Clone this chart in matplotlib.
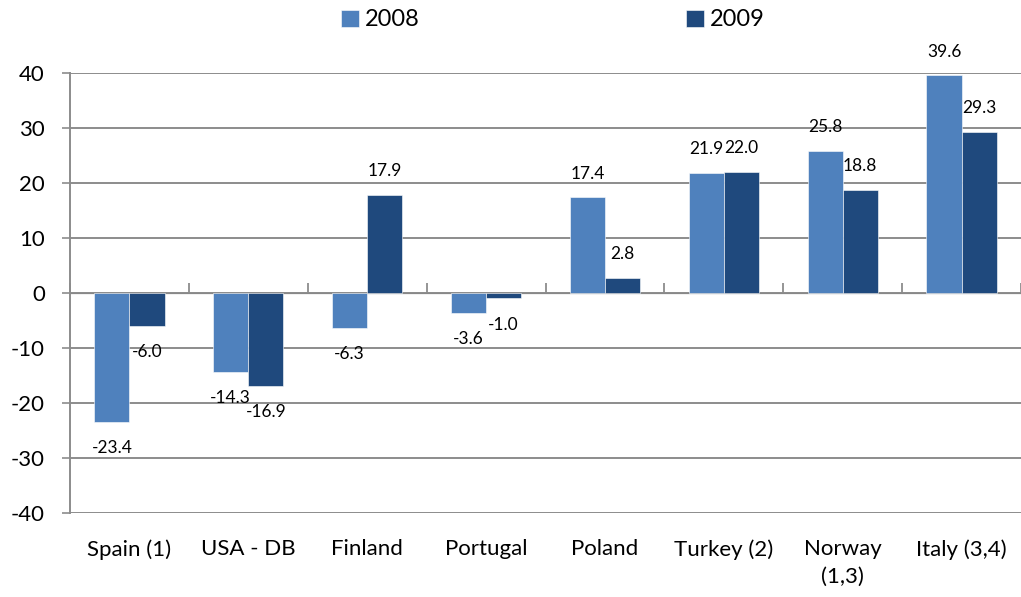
import matplotlib
matplotlib.use("Agg")
import matplotlib.pyplot as plt
import numpy as np

categories = ["Spain (1)", "USA - DB", "Finland", "Portugal", "Poland",
              "Turkey (2)", "Norway\n(1,3)", "Italy (3,4)"]
series_names = ["2008", "2009"]
values_2008 = [-23.4, -14.3, -6.3, -3.6, 17.4, 21.9, 25.8, 39.6]
values_2009 = [-6.0, -16.9, 17.9, -1.0, 2.8, 22.0, 18.8, 29.3]
colors = ["#4F81BD", "#1F497D"]
yticks = [-40, -30, -20, -10, 0, 10, 20, 30, 40]

plt.rcParams['font.family'] = ['Lato', 'DejaVu Sans']

fig = plt.figure(figsize=(10.21, 5.97), dpi=100)
ax = fig.add_axes([70/1021, 1-513/597, 1-70/1021, (513-73)/597])

x = np.arange(len(categories)) + 0.5
w = 0.295
grid_c = "#8C8C8C"

for i, (vals, name) in enumerate(zip([values_2008, values_2009], series_names)):
    xs = x + (i - 0.5) * w
    ax.bar(xs, vals, width=w, color=colors[i], label=name,
           edgecolor="white", linewidth=0.4, zorder=3)
    for xi, v in zip(xs, vals):
        off = 17 if v >= 0 else -19
        ax.annotate(f"{v:.1f}", (xi, v), xytext=(0, off), textcoords="offset points",
                    ha="center", va="center", fontsize=12.5, color="black", zorder=4)

ax.set_xlim(0, len(categories))
ax.set_ylim(-40, 40)
ax.set_yticks(yticks)
ax.set_yticklabels([str(t) for t in yticks], fontsize=16)
ax.yaxis.grid(True, color=grid_c, linewidth=1.4, zorder=0)
ax.set_axisbelow(True)
ax.tick_params(axis="y", length=6, width=1.2, color=grid_c, pad=12)

ax.set_xticks(x)
ax.set_xticklabels(categories, fontsize=16, linespacing=1.45, va="top")
ax.tick_params(axis="x", length=0, pad=19)

for s in ["top", "right", "bottom"]:
    ax.spines[s].set_visible(False)
ax.spines["left"].set_color(grid_c)
ax.spines["left"].set_linewidth(1.4)

# zero line with category separator ticks (0 is the middle of -40..40)
sec = ax.secondary_xaxis(0.5)
sec.set_xticks(np.arange(len(categories) + 1))
sec.set_xticklabels([])
sec.tick_params(axis="x", length=7, width=1.3, color=grid_c, direction="out")
sec.spines["bottom"].set_color(grid_c)
sec.spines["bottom"].set_linewidth(1.4)

fig.legend(loc="center", bbox_to_anchor=(553/1021, 1-20/597), ncol=2, frameon=False,
           fontsize=17, handlelength=0.75, handleheight=0.75, handletextpad=0.25,
           columnspacing=11.3)

fig.savefig("out.png", dpi=100)
